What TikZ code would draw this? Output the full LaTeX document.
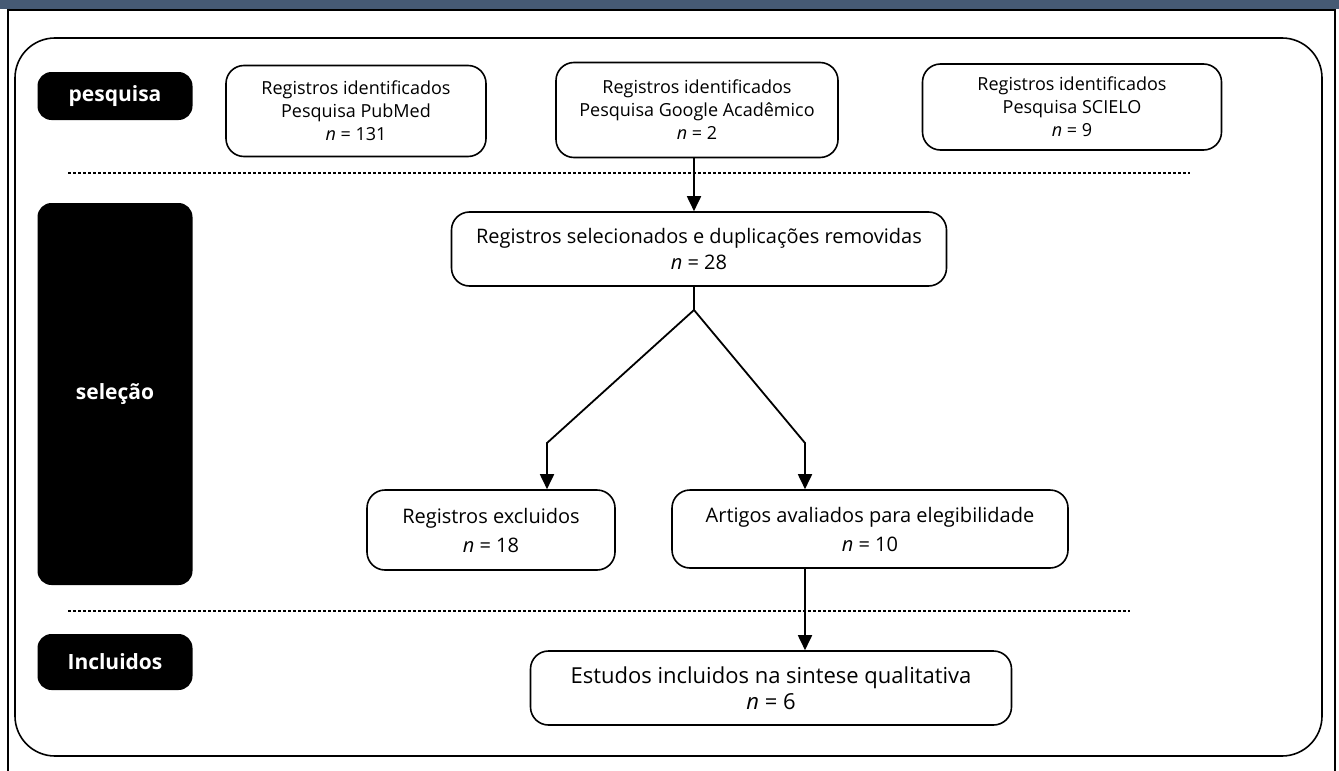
\documentclass[tikz,border=0pt]{standalone}
\usepackage{fontspec}
\setmainfont{Open Sans}
\usetikzlibrary{positioning, arrows.meta}
\definecolor{barblue}{RGB}{70,90,116}
\tikzset{
  stage/.style={fill=black, text=white, rounded corners=14pt, inner sep=0pt,
    minimum width=155pt, font=\bfseries\fontsize{21}{25}\selectfont},
  box/.style={draw, line width=1.6pt, rounded corners=18pt, align=center,
    inner sep=0pt, fill=white, font=\fontsize{18}{23}\selectfont},
  sep/.style={line width=2.6pt, dash pattern=on 2.6pt off 2.4pt},
  flow/.style={line width=1.8pt, -{Triangle[width=14pt,length=15pt]}},
}

\begin{document}
\begin{tikzpicture}[x=1pt, y=-1pt]
  \useasboundingbox (0,0) rectangle (1339,771);
  \fill[barblue] (0,0) rectangle (1339,9);
  \draw[line width=2pt] (8,775) -- (8,10) -- (1335,10) -- (1335,775);
  \draw[line width=1.6pt, rounded corners=40pt] (15,38) rectangle (1322,756);

  % stages
  \node[stage, minimum height=48pt] (pesq) at (115,96) {pesquisa};
  \node[stage, minimum height=382pt] (sel) at (115,394) {seleção};
  \node[stage, minimum height=56pt] (incl) at (115,662) {Incluidos};

  % records
  \node[box, minimum width=260pt, minimum height=91pt] (pubmed) at (356,111)
    {Registros identificados\\Pesquisa PubMed\\\textit{n} = 131};
  \node[box, minimum width=282pt, minimum height=95pt] (google) at (697,110)
    {Registros identificados\\Pesquisa Google Acadêmico\\\textit{n} = 2};
  \node[box, minimum width=299pt, minimum height=86pt] (scielo) at (1072,107)
    {Registros identificados\\Pesquisa SCIELO\\\textit{n} = 9};
  \node[box, minimum width=495pt, minimum height=74pt, font=\fontsize{20}{26}\selectfont] (selec) at (699,249)
    {Registros selecionados e duplicações removidas\\\textit{n} = 28};
  \node[box, minimum width=248pt, minimum height=80pt, font=\fontsize{20}{29}\selectfont] (excl) at (491,530)
    {Registros excluidos\\\textit{n} = 18};
  \node[box, minimum width=396pt, minimum height=78pt, font=\fontsize{20}{29}\selectfont] (artigos) at (870,529)
    {Artigos avaliados para elegibilidade\\\textit{n} = 10};
  \node[box, minimum width=481pt, minimum height=74pt, font=\fontsize{22}{26}\selectfont] (estudos) at (771,688)
    {Estudos incluidos na sintese qualitativa\\\textit{n} = 6};

  % separators
  \draw[sep] (68,173) -- (1190,173);
  \draw[sep] (68,611) -- (1130,611);

  % flow
  \coordinate (split) at (694,310);
  \coordinate (lbend) at (547,443);
  \coordinate (rbend) at (805,443);
  \draw[flow] (google.south -| split) -- (split |- selec.north);
  \draw[line width=1.8pt] (split |- selec.south) -- (split);
  \draw[flow] (split) -- (lbend) -- (lbend |- excl.north);
  \draw[flow] (split) -- (rbend) -- (rbend |- artigos.north);
  \draw[flow] (rbend |- artigos.south) -- (rbend |- estudos.north);
\end{tikzpicture}
\end{document}
